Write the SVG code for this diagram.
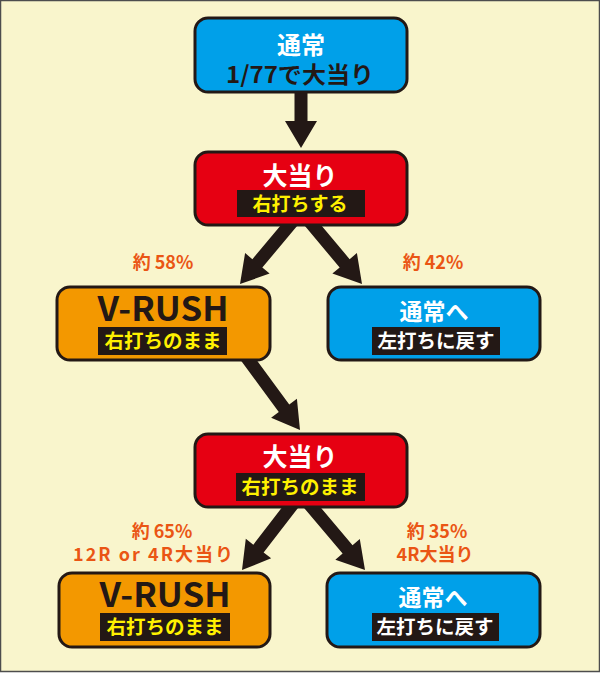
<svg xmlns="http://www.w3.org/2000/svg" width="600" height="673" viewBox="0 0 600 673">
<style>
text{font-family:"Noto Sans CJK JP","Noto Sans",sans-serif;font-weight:bold;text-anchor:middle}
.box{stroke:#231815;stroke-width:3}
.blue{fill:#00A0E9}.red{fill:#E60012}.orange{fill:#F39800}
.tag{fill:#231815}
.w{fill:#FFFFFF}.k{fill:#231815}.y{fill:#FFF100}
.lbl{fill:#EA5514;font-size:18px}
.arr{fill:#231815}
</style>
<rect x="0.5" y="0.5" width="599" height="671" fill="#F9F5CC" stroke="#4d4d4d" stroke-width="1.5"/>
<g id="connectors">
<g transform="translate(301,148)"><polygon class="arr" points="-6.5,-58 6.5,-58 6.5,-27 16,-27 0,0 -16,-27 -6.5,-27"/></g>
<g transform="translate(240,284) rotate(40)"><polygon class="arr" points="-6.5,-82 6.5,-82 6.5,-27 16,-27 0,0 -16,-27 -6.5,-27"/></g>
<g transform="translate(362,284) rotate(-40)"><polygon class="arr" points="-6.5,-82 6.5,-82 6.5,-27 16,-27 0,0 -16,-27 -6.5,-27"/></g>
<g transform="translate(300,430) rotate(-36.3)"><polygon class="arr" points="-6.5,-95 6.5,-95 6.5,-27 16,-27 0,0 -16,-27 -6.5,-27"/></g>
<g transform="translate(242,570) rotate(37.6)"><polygon class="arr" points="-6.5,-84 6.5,-84 6.5,-27 16,-27 0,0 -16,-27 -6.5,-27"/></g>
<g transform="translate(365,570) rotate(-40.2)"><polygon class="arr" points="-6.5,-87 6.5,-87 6.5,-27 16,-27 0,0 -16,-27 -6.5,-27"/></g>
</g>
<g id="n1">
<rect class="box blue" x="195" y="18" width="212" height="74" rx="13"/>
<text class="w" x="301" y="54" font-size="24">通常</text>
<text class="k" x="300" y="83" font-size="23" textLength="148" lengthAdjust="spacingAndGlyphs">1/77で大当り</text>
</g>
<g id="n2">
<rect class="box red" x="195" y="152" width="212" height="73" rx="13"/>
<text class="w" x="300" y="185" font-size="25">大当り</text>
<rect class="tag" x="237" y="190" width="128" height="27"/>
<text class="y" x="300" y="211" font-size="19">右打ちする</text>
</g>
<g id="l58"><text class="lbl" x="163" y="269">約 58%</text></g>
<g id="l42"><text class="lbl" x="433" y="269">約 42%</text></g>
<g id="n3">
<rect class="box orange" x="57" y="287" width="213" height="73" rx="13"/>
<text class="k" x="163" y="321" font-size="33" textLength="131" lengthAdjust="spacingAndGlyphs">V-RUSH</text>
<rect class="tag" x="98" y="327" width="129" height="28"/>
<text class="y" x="163" y="348" font-size="19.5">右打ちのまま</text>
</g>
<g id="n4">
<rect class="box blue" x="328" y="287" width="212" height="73" rx="13"/>
<text class="w" x="434" y="320" font-size="23">通常へ</text>
<rect class="tag" x="372" y="327" width="128" height="28"/>
<text class="w" x="436" y="348" font-size="19.5">左打ちに戻す</text>
</g>
<g id="n5">
<rect class="box red" x="195" y="434" width="212" height="73" rx="13"/>
<text class="w" x="300" y="466" font-size="25">大当り</text>
<rect class="tag" x="236" y="473" width="129" height="28"/>
<text class="y" x="300" y="494" font-size="19.5">右打ちのまま</text>
</g>
<g id="l65">
<text class="lbl" x="162" y="538">約 65%</text>
<text class="lbl" x="153" y="561" textLength="160" lengthAdjust="spacing">12R or 4R大当り</text>
</g>
<g id="l35">
<text class="lbl" x="437" y="538">約 35%</text>
<text class="lbl" x="435" y="561">4R大当り</text>
</g>
<g id="n6">
<rect class="box orange" x="59" y="573" width="211" height="74" rx="13"/>
<text class="k" x="165" y="607" font-size="33" textLength="131" lengthAdjust="spacingAndGlyphs">V-RUSH</text>
<rect class="tag" x="100" y="613" width="130" height="28"/>
<text class="y" x="165" y="634" font-size="19.5">右打ちのまま</text>
</g>
<g id="n7">
<rect class="box blue" x="327" y="573" width="213" height="74" rx="13"/>
<text class="w" x="433" y="606" font-size="23">通常へ</text>
<rect class="tag" x="372" y="613" width="127" height="28"/>
<text class="w" x="435" y="634" font-size="19.5">左打ちに戻す</text>
</g>
</svg>
